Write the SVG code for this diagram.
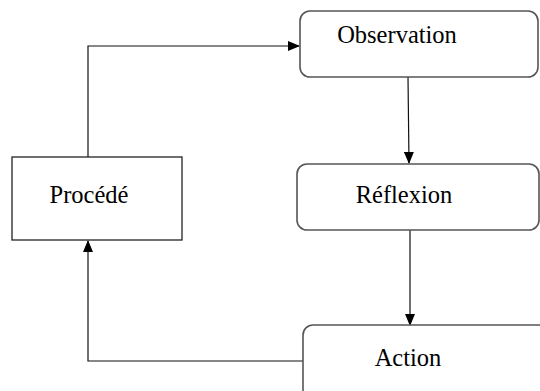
<svg xmlns="http://www.w3.org/2000/svg" width="540" height="391" viewBox="0 0 540 391">
<style>
.box{fill:#fff;stroke:#555;stroke-width:1.6}
.sq{fill:#fff;stroke:#222;stroke-width:1.3}
.lbl{font-family:"Liberation Serif","Times New Roman",serif;font-size:24.5px;fill:#000;text-anchor:middle}
.ln{fill:none;stroke:#111;stroke-width:1.2}
</style>
<defs>
<marker id="ah" markerWidth="12" markerHeight="10" refX="11" refY="5" orient="auto" markerUnits="userSpaceOnUse">
<path d="M0,0 L12,5 L0,10 Z" fill="#000"/>
</marker>
</defs>
<g id="connectors">
<path class="ln" d="M88,157 V46 H299" marker-end="url(#ah)"/>
<path class="ln" d="M408,77 L409,163" marker-end="url(#ah)"/>
<path class="ln" d="M410,230 V325" marker-end="url(#ah)"/>
<path class="ln" d="M303,361 H88 V241" marker-end="url(#ah)"/>
</g>
<g id="observation">
<rect class="box" x="300" y="11" width="238" height="66" rx="10"/>
<text class="lbl" x="397" y="43">Observation</text>
</g>
<g id="reflexion">
<rect class="box" x="297" y="164" width="242" height="66" rx="10"/>
<text class="lbl" x="404" y="203">Réflexion</text>
</g>
<g id="action">
<rect class="box" x="303" y="325" width="250" height="80" rx="10"/>
<text class="lbl" x="408" y="366">Action</text>
</g>
<g id="procede">
<rect class="sq" x="12" y="157" width="170" height="83"/>
<text class="lbl" x="89" y="203">Procédé</text>
</g>
</svg>
